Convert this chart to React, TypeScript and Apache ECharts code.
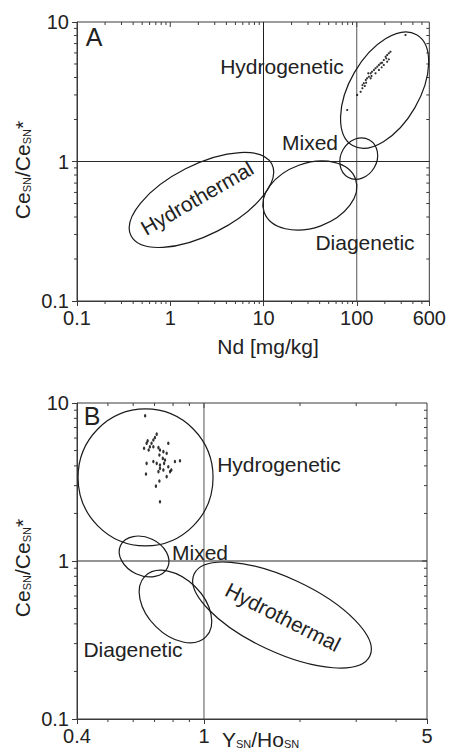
import React, { useEffect, useRef } from "react";
import * as echarts from "echarts";

const FONT = "'Liberation Sans', Arial, Helvetica, sans-serif";
const INK = "#1a1a1a";
const FRAME = "#3a3a3a";

// ---------- Panel A : Nd [mg/kg] vs Ce_SN/Ce_SN* ----------
const ndA = [115, 119, 125, 129, 135, 133, 141, 146, 153, 159, 166, 173, 180, 187, 173, 195, 204, 212, 221, 230, 212, 195, 159, 141, 126, 115, 110, 122, 144, 185, 207, 221, 333, 79, 101];
const ceA = [3.53, 3.64, 3.84, 3.95, 4.05, 4.29, 4.29, 4.4, 4.53, 4.66, 4.78, 4.92, 5.06, 5.11, 4.53, 5.34, 5.64, 5.8, 5.97, 6.12, 5.19, 4.92, 4.29, 3.95, 3.67, 3.35, 3.16, 3.48, 4.1, 4.73, 5.49, 5.4, 8.07, 2.34, 3.0];

// ---------- Panel B : Y_SN/Ho_SN vs Ce_SN/Ce_SN* ----------
const yhoB = [0.654, 0.711, 0.702, 0.694, 0.666, 0.685, 0.661, 0.677, 0.649, 0.671, 0.694, 0.72, 0.728, 0.746, 0.773, 0.764, 0.725, 0.743, 0.755, 0.75, 0.728, 0.711, 0.694, 0.661, 0.811, 0.841, 0.773, 0.79, 0.783, 0.746, 0.728, 0.72, 0.764, 0.658, 0.725, 0.707, 0.728];
const ceB = [8.3, 6.35, 6.05, 5.83, 5.76, 5.56, 5.56, 5.29, 5.17, 5.04, 5.29, 5.22, 5.04, 4.92, 5.56, 4.81, 4.69, 4.46, 4.36, 4.15, 4.05, 4.15, 4.26, 4.15, 4.26, 4.31, 3.95, 3.77, 3.68, 3.77, 3.86, 3.68, 3.42, 3.55, 3.21, 2.98, 2.37];

// ---------- Field ellipses (centre in data units) ----------
const fieldsA = ["Hydrothermal", "Diagenetic", "Mixed", "Hydrogenetic"];
const fieldCxA = [2.16, 31.4, 105, 199];
const fieldCyA = [0.53, 0.57, 1.05, 3.25];
const fieldsB = ["Hydrogenetic", "Mixed", "Diagenetic", "Hydrothermal"];
const fieldCxB = [0.656, 0.649, 0.814, 1.756];
const fieldCyB = [3.38, 1.068, 0.515, 0.455];

// ---------- Axis ticks ----------
const xMinorA = [0.2, 0.3, 0.4, 0.5, 0.6, 0.7, 0.8, 0.9, 2, 3, 4, 5, 6, 7, 8, 9, 20, 30, 40, 50, 60, 70, 80, 90, 200, 300, 400, 500];
const xMajorA = [1, 10, 100];
const xMinorB = [0.5, 0.6, 0.7, 0.8, 0.9, 2, 3, 4];
const xMajorB = [1];
const yMinor = [0.2, 0.3, 0.4, 0.5, 0.6, 0.7, 0.8, 0.9, 2, 3, 4, 5, 6, 7, 8, 9];
const yMajor = [1];
const refXA = [10, 100];
const refYA = [1];
const refXB = [1];
const refYB = [1];

// ellipse geometry (pixels / degrees), styling only
const ellSizeA = [[79, 35, 27], [48.6, 32.2, 20], [21.5, 18, 60], [64, 35, 60]];
const ellSizeB = [[67.5, 68.5, 0], [26, 19, -25], [43, 28, -45], [97, 37, -25]];

const fmt = (v: number) => String(Number(v.toPrecision(3)));

function axisBase(gridIndex: number, min: number, max: number, position: string, margin: number) {
  return {
    type: "log",
    logBase: 10,
    gridIndex,
    min,
    max,
    position,
    axisLine: { show: true, onZero: false, lineStyle: { color: FRAME, width: 1 } },
    axisTick: { show: true, length: 5, lineStyle: { color: FRAME, width: 1 } },
    axisLabel: {
      fontSize: 20,
      color: "#222",
      fontFamily: FONT,
      showMinLabel: true,
      showMaxLabel: true,
      formatter: fmt,
      margin,
    },
    splitLine: { show: false },
  };
}

function tickSeries(idx: number, xMinor: number[], xMajor: number[], refX: number[], refY: number[], refColors: string[]) {
  return {
    type: "custom",
    coordinateSystem: "cartesian2d",
    xAxisIndex: idx,
    yAxisIndex: idx,
    silent: true,
    clip: false,
    z: 3,
    data: [[1, 1]],
    renderItem: (params: any, api: any) => {
      const cs = params.coordSys;
      const left = cs.x, top = cs.y, right = cs.x + cs.width, bottom = cs.y + cs.height;
      const ch: any[] = [];
      const ln = (x1: number, y1: number, x2: number, y2: number, color = FRAME) =>
        ch.push({ type: "line", shape: { x1, y1, x2, y2 }, style: { stroke: color, lineWidth: 1 } });
      xMinor.forEach((v) => {
        const px = api.coord([v, 1])[0];
        ln(px, bottom, px, bottom + 3);
        ln(px, top, px, top + 3);
      });
      xMajor.forEach((v) => {
        const px = api.coord([v, 1])[0];
        ln(px, top, px, top + 5);
      });
      yMinor.forEach((v) => {
        const py = api.coord([1, v])[1];
        ln(left - 3, py, left, py);
        ln(right - 3, py, right, py);
      });
      yMajor.forEach((v) => {
        const py = api.coord([1, v])[1];
        ln(right - 5, py, right, py);
      });
      refX.forEach((v, i) => {
        const px = api.coord([v, 1])[0];
        ln(px, top, px, bottom, refColors[i]);
      });
      refY.forEach((v) => {
        const py = api.coord([1, v])[1];
        ln(left, py, right, py, "#2a2a2a");
      });
      return { type: "group", children: ch };
    },
  };
}

function ellipseSeries(idx: number, cx: number[], cy: number[], sizes: number[][]) {
  return {
    type: "custom",
    coordinateSystem: "cartesian2d",
    xAxisIndex: idx,
    yAxisIndex: idx,
    silent: true,
    clip: false,
    z: 4,
    encode: { x: 0, y: 1 },
    data: cx.map((x, i) => [x, cy[i], sizes[i][0], sizes[i][1], sizes[i][2]]),
    renderItem: (params: any, api: any) => {
      const c = api.coord([api.value(0), api.value(1)]);
      return {
        type: "ellipse",
        x: c[0],
        y: c[1],
        rotation: (api.value(4) * Math.PI) / 180,
        shape: { cx: 0, cy: 0, rx: api.value(2), ry: api.value(3) },
        style: { fill: "none", stroke: INK, lineWidth: 1.2 },
      };
    },
  };
}

function label(text: string, x: number, y: number, size = 21, rotDeg = 0) {
  return {
    type: "text",
    x,
    y,
    rotation: (rotDeg * Math.PI) / 180,
    style: { text, fontSize: size, fontFamily: FONT, fill: "#222", align: "center", verticalAlign: "middle" },
    silent: true,
    z: 10,
  };
}

const richTitle = {
  m: { fontSize: 21, fontFamily: FONT, fill: "#222" },
  s: { fontSize: 11, fontFamily: FONT, fill: "#222", padding: [10, 0, 0, 0] },
};

function yTitle(y: number) {
  return {
    type: "text",
    x: 22,
    y,
    rotation: Math.PI / 2,
    style: {
      text: "{m|Ce}{s|SN}{m|/Ce}{s|SN}{m|*}",
      rich: richTitle,
      align: "center",
      verticalAlign: "middle",
    },
    silent: true,
    z: 10,
  };
}

export default function App() {
  const ref = useRef<HTMLDivElement>(null);
  useEffect(() => {
    const chart = echarts.init(ref.current!, null, { renderer: "svg" });
    const option: any = {
      animation: false,
      backgroundColor: "#fff",
      grid: [
        { left: 77, top: 22, width: 354, height: 279, show: true, borderColor: FRAME, borderWidth: 1, containLabel: false },
        { left: 77, top: 403, width: 350, height: 316, show: true, borderColor: FRAME, borderWidth: 1, containLabel: false },
      ],
      xAxis: [
        axisBase(0, 0.1, 600, "bottom", 7),
        axisBase(1, 0.4, 5, "bottom", 7),
      ],
      yAxis: [
        axisBase(0, 0.1, 10, "left", 8),
        axisBase(1, 0.1, 10, "left", 8),
      ],
      series: [
        tickSeries(0, xMinorA, xMajorA, refXA, refYA, ["#1f1f1f", "#555"]),
        tickSeries(1, xMinorB, xMajorB, refXB, refYB, ["#555"]),
        ellipseSeries(0, fieldCxA, fieldCyA, ellSizeA),
        ellipseSeries(1, fieldCxB, fieldCyB, ellSizeB),
        {
          type: "scatter",
          xAxisIndex: 0,
          yAxisIndex: 0,
          symbol: "circle",
          symbolSize: 2.2,
          itemStyle: { color: "#000" },
          silent: true,
          z: 5,
          data: ndA.map((x, i) => [x, ceA[i]]),
        },
        {
          type: "scatter",
          xAxisIndex: 1,
          yAxisIndex: 1,
          symbol: "circle",
          symbolSize: [2.4, 3.6],
          itemStyle: { color: "#000" },
          silent: true,
          z: 5,
          data: yhoB.map((x, i) => [x, ceB[i]]),
        },
      ],
      graphic: [
        label("A", 94, 37, 25),
        label(fieldsA[3], 282, 66),
        label(fieldsA[2], 310, 142),
        label(fieldsA[1], 365, 242),
        label(fieldsA[0], 197, 198, 21, 30),
        label("B", 92, 416, 25),
        label(fieldsB[0], 279, 464),
        label(fieldsB[1], 200, 552),
        label(fieldsB[2], 133, 649),
        label(fieldsB[3], 283, 617, 21, -27),
        label("Nd [mg/kg]", 268, 346),
        yTitle(170),
        yTitle(568),
        {
          type: "text",
          x: 222,
          y: 739,
          style: {
            text: "{m|Y}{s|SN}{m|/Ho}{s|SN}",
            rich: richTitle,
            align: "left",
            verticalAlign: "middle",
          },
          silent: true,
          z: 10,
        },
      ],
    };
    chart.setOption(option);
    return () => chart.dispose();
  }, []);
  return (
    <div
      ref={ref}
      style={{ position: "fixed", left: 0, top: 0, width: 449, height: 754, background: "#fff" }}
    />
  );
}
